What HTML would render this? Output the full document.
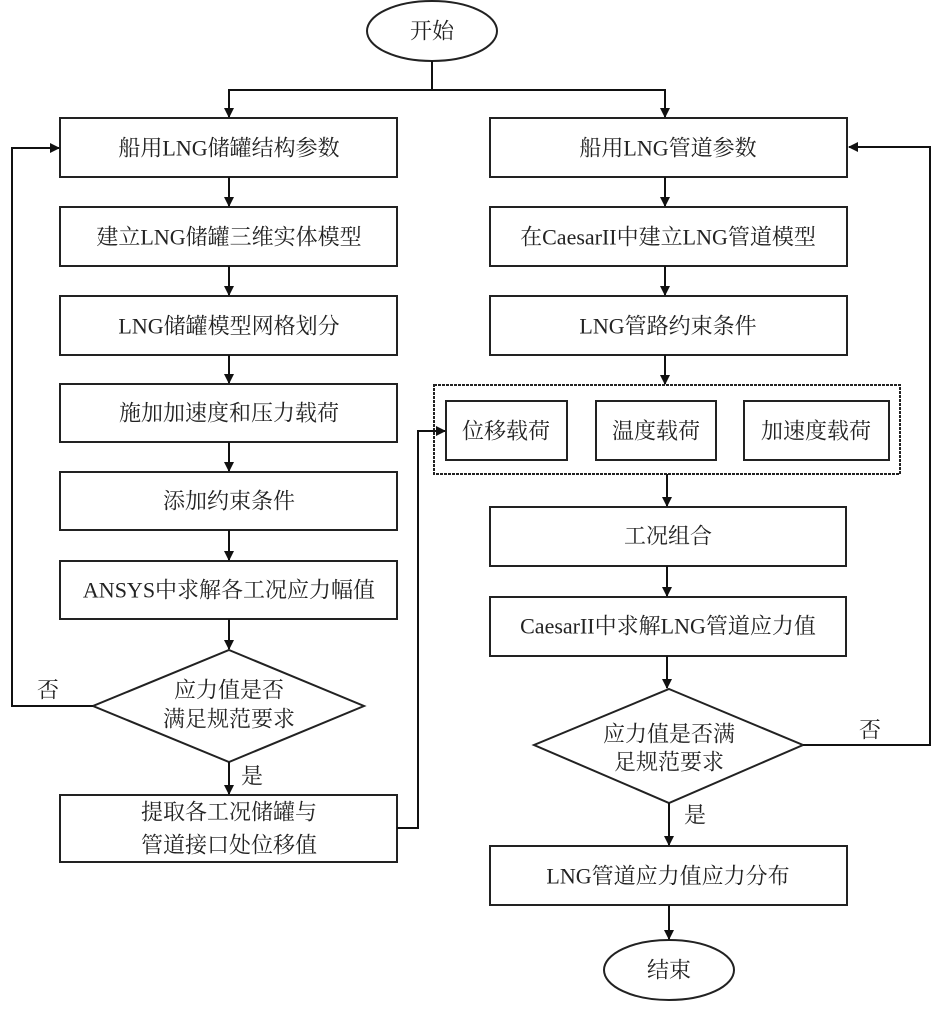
<!DOCTYPE html>
<html><head><meta charset="utf-8"><style>
body{margin:0;background:#fff}
svg text{font-family:"Liberation Serif","Noto Serif CJK SC","Noto Sans CJK SC",serif;font-size:22px;fill:#222;text-anchor:middle;dominant-baseline:central}
</style></head><body>
<svg width="945" height="1004" xmlns="http://www.w3.org/2000/svg">
<defs><marker id="a" markerWidth="10" markerHeight="10" refX="9" refY="5" orient="auto" markerUnits="userSpaceOnUse"><path d="M0,0 L10,5 L0,10 z" fill="#111"/></marker></defs>
<g fill="none" stroke="#222" stroke-width="2">
<ellipse cx="432" cy="31" rx="65" ry="30"/>
<ellipse cx="669" cy="970" rx="65" ry="30"/>
<rect x="60" y="118" width="337" height="59"/>
<rect x="60" y="207" width="337" height="59"/>
<rect x="60" y="296" width="337" height="59"/>
<rect x="60" y="384" width="337" height="58"/>
<rect x="60" y="472" width="337" height="58"/>
<rect x="60" y="561" width="337" height="58"/>
<polygon points="229,650 364,706 229,762 93,706"/>
<rect x="60" y="795" width="337" height="67"/>
<rect x="490" y="118" width="357" height="59"/>
<rect x="490" y="207" width="357" height="59"/>
<rect x="490" y="296" width="357" height="59"/>
<rect x="434" y="385" width="466" height="89" stroke-dasharray="3,1"/>
<rect x="446" y="401" width="121" height="59"/>
<rect x="596" y="401" width="120" height="59"/>
<rect x="744" y="401" width="145" height="59"/>
<rect x="490" y="507" width="356" height="59"/>
<rect x="490" y="597" width="356" height="59"/>
<polygon points="669,689 803,745 669,803 534,745"/>
<rect x="490" y="846" width="357" height="59"/>
</g>
<g fill="none" stroke="#111" stroke-width="2" marker-end="url(#a)">
<polyline points="432,61 432,90 229,90 229,117"/>
<polyline points="432,90 665,90 665,117"/>
<line x1="229" y1="177" x2="229" y2="206"/>
<line x1="229" y1="266" x2="229" y2="295"/>
<line x1="229" y1="355" x2="229" y2="383"/>
<line x1="229" y1="442" x2="229" y2="471"/>
<line x1="229" y1="530" x2="229" y2="560"/>
<line x1="229" y1="619" x2="229" y2="649"/>
<line x1="229" y1="762" x2="229" y2="794"/>
<polyline points="93,706 12,706 12,148 59,148"/>
<polyline points="397,828 418,828 418,431 445,431"/>
<line x1="665" y1="177" x2="665" y2="206"/>
<line x1="665" y1="266" x2="665" y2="295"/>
<line x1="665" y1="355" x2="665" y2="384"/>
<line x1="667" y1="474" x2="667" y2="506"/>
<line x1="667" y1="566" x2="667" y2="596"/>
<line x1="667" y1="656" x2="667" y2="688"/>
<line x1="669" y1="803" x2="669" y2="845"/>
<line x1="669" y1="905" x2="669" y2="939"/>
<polyline points="803,745 930,745 930,147 849,147"/>
</g>
<text x="432" y="31">开始</text>
<text x="669" y="970">结束</text>
<text x="229" y="148">船用LNG储罐结构参数</text>
<text x="229" y="237">建立LNG储罐三维实体模型</text>
<text x="229" y="326">LNG储罐模型网格划分</text>
<text x="229" y="413">施加加速度和压力载荷</text>
<text x="229" y="501">添加约束条件</text>
<text x="229" y="590">ANSYS中求解各工况应力幅值</text>
<text x="229" y="690">应力值是否</text>
<text x="229" y="719">满足规范要求</text>
<text x="229" y="812">提取各工况储罐与</text>
<text x="229" y="845">管道接口处位移值</text>
<text x="668" y="148">船用LNG管道参数</text>
<text x="668" y="237">在CaesarII中建立LNG管道模型</text>
<text x="668" y="326">LNG管路约束条件</text>
<text x="506" y="431">位移载荷</text>
<text x="656" y="431">温度载荷</text>
<text x="816" y="431">加速度载荷</text>
<text x="668" y="536">工况组合</text>
<text x="668" y="626">CaesarII中求解LNG管道应力值</text>
<text x="669" y="734">应力值是否满</text>
<text x="669" y="762">足规范要求</text>
<text x="668" y="876">LNG管道应力值应力分布</text>
<text x="48" y="690">否</text>
<text x="252" y="776">是</text>
<text x="870" y="730">否</text>
<text x="695" y="815">是</text>
</svg>
</body></html>
